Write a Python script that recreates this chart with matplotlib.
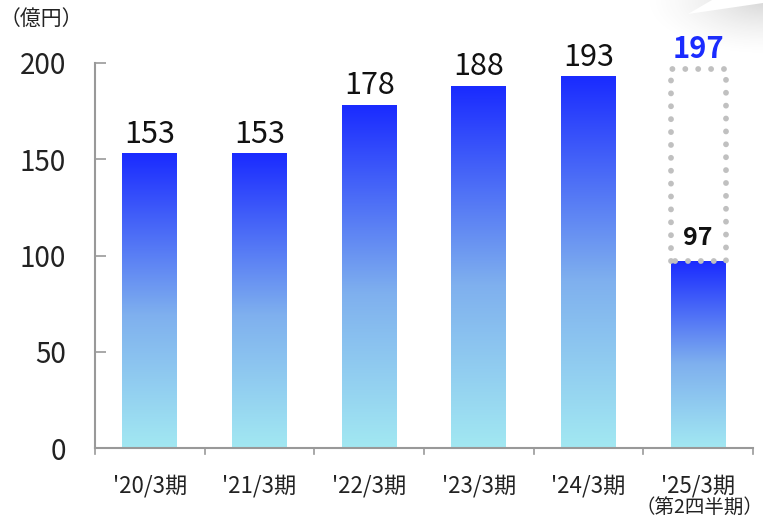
import matplotlib
matplotlib.use("Agg")
import matplotlib.pyplot as plt
import numpy as np
from matplotlib.patches import Rectangle, Polygon
from matplotlib.colors import LinearSegmentedColormap

plt.rcParams['font.family'] = ['Noto Sans CJK JP', 'DejaVu Sans']

categories = ["'20/3期", "'21/3期", "'22/3期", "'23/3期", "'24/3期", "'25/3期"]
last_sublabel = "（第2四半期）"
values = [153, 153, 178, 188, 193, 97]
forecast_value = 197
unit_label = "（億円）"
yticks = [0, 50, 100, 150, 200]

W, H = 763, 520
fig = plt.figure(figsize=(W / 100, H / 100), dpi=100)
ax = fig.add_axes([95 / W, 1 - 448 / H, (753 - 95) / W, (448 - 63) / H])

ax.set_xlim(-0.5, len(categories) - 0.5)
ax.set_ylim(0, 200)

cmap = LinearSegmentedColormap.from_list(
    "g", [(0.0, "#a2e8f2"), (0.45, "#7fb0ee"), (1.0, "#1a2bff")])
grad = np.linspace(0, 1, 256).reshape(-1, 1)
bw = 0.5
for i, v in enumerate(values):
    bar = Rectangle((i - bw / 2, 0), bw, v, facecolor='none', edgecolor='none')
    ax.add_patch(bar)
    im = ax.imshow(grad, cmap=cmap, aspect='auto', origin='lower',
                   extent=(i - bw / 2, i + bw / 2, 0, v), zorder=2)
    im.set_clip_path(bar)

for i, v in enumerate(values[:-1]):
    ax.text(i, v + 2, str(v), ha='center', va='bottom', fontsize=22, color='#111111')

# forecast dotted box
last = len(values) - 1
ax.plot([last - bw / 2, last - bw / 2, last + bw / 2, last + bw / 2, last - bw / 2],
        [values[-1], forecast_value, forecast_value, values[-1], values[-1]],
        linestyle=(0, (0.01, 2.2)), dash_capstyle='round', linewidth=4.2,
        color='#c0c0c0', zorder=3, clip_on=False)
ax.text(last, forecast_value + 2.5, str(forecast_value), ha='center', va='bottom',
        fontsize=21, fontweight='bold', color='#1a2bff')
ax.text(last, values[-1] + 6, str(values[-1]), ha='center', va='bottom',
        fontsize=18, fontweight='bold', color='#111111')

ax.set_yticks(yticks)
ax.set_yticklabels([str(t) for t in yticks], fontsize=20, color='#222222')
ax.tick_params(axis='y', direction='in', length=8, width=1.2, color='#999999', pad=21)
ax.set_xticks(range(len(categories)))
ax.set_xticklabels(categories, fontsize=16, color='#222222')
ax.tick_params(axis='x', length=0, pad=19)
for i in range(len(categories) + 1):
    ax.plot([i - 0.5, i - 0.5], [0, -3], color='#999999', lw=1.2, clip_on=False)
for s in ['top', 'right']:
    ax.spines[s].set_visible(False)
for s in ['left', 'bottom']:
    ax.spines[s].set_color('#999999')
    ax.spines[s].set_linewidth(1.5)

fig.text(1.0, 2 / H, last_sublabel, fontsize=14, color='#222222',
         ha='right', va='bottom')
fig.text(0.0, 1 - 19 / H, unit_label, fontsize=15, color='#222222', ha='left', va='center')

# decorative grey shadow in top-right corner
bg = fig.add_axes([600 / W, 1 - 60 / H, 163 / W, 60 / H])
yy, xx = np.mgrid[0:60, 0:163]
d = np.sqrt(((xx - 163) / 120.0) ** 2 + ((yy - 0) / 55.0) ** 2)
alpha = np.clip(1 - d, 0, 1) ** 1.5 * 0.35
img = np.zeros((60, 163, 4))
img[..., :3] = 0.55
img[..., 3] = alpha
bg.imshow(img, extent=(0, 163, 60, 0), aspect='auto')
bg.add_patch(Polygon([[88, 14], [112, 0], [163, 0], [163, 3]], closed=True,
                     facecolor='white', edgecolor='none'))
bg.set_xlim(0, 163)
bg.set_ylim(60, 0)
bg.axis('off')

fig.savefig("out.png", dpi=100)
